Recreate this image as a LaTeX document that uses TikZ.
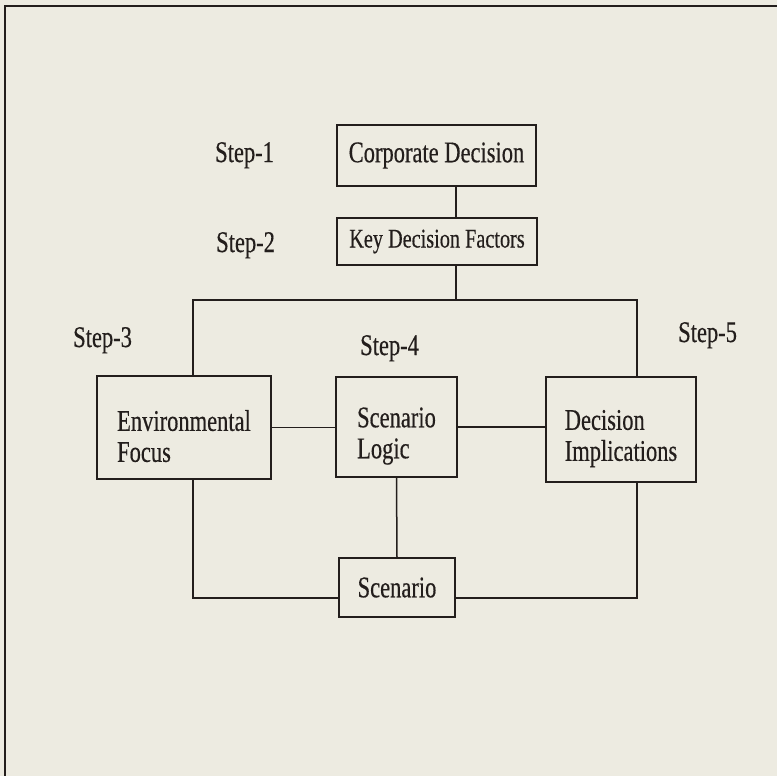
\documentclass[tikz,border=0pt]{standalone}
\usepackage{fontspec}
\setmainfont{Liberation Serif}[FakeStretch=0.75,FakeBold=0.4]
\definecolor{paper}{RGB}{237,235,225}
\definecolor{ink}{RGB}{35,30,28}
\newcommand{\lift}{\rule{0pt}{38pt}}
\begin{document}
\begin{tikzpicture}[x=1pt,y=-1pt,
  box/.style={draw=ink, line width=1.5pt, fill=paper, inner sep=0pt, align=left,
    font=\fontsize{30}{31}\selectfont, text=ink},
  steplbl/.style={anchor=base west, inner sep=0pt, font=\fontsize{30}{31}\selectfont, text=ink},
  conn/.style={draw=ink, line width=1.5pt}]
\fill[paper] (0,0) rectangle (777,776);
\useasboundingbox (0,0) rectangle (777,776);
\draw[ink, line width=2pt] (5,776) -- (5,6) -- (777,6);

\node[box, minimum width=199pt, minimum height=61pt] (cd) at (436.5,155.5) {Corporate Decision};
\node[box, minimum width=200pt, minimum height=47pt, font=\fontsize{27}{30}\selectfont] (kdf) at (437,241.5) {Key Decision Factors};
\node[box, minimum width=174pt, minimum height=103pt] (env) at (184,427.5) {\lift Environmental\\Focus};
\node[box, minimum width=121pt, minimum height=100pt] (sl) at (396.5,427) {\lift Scenario\\Logic};
\node[box, minimum width=150pt, minimum height=105pt] (dec) at (621,429.5) {\lift Decision\\Implications};
\node[box, minimum width=116pt, minimum height=59pt] (scen) at (397,587.5) {Scenario};

\node[steplbl] (s1) at (215,162) {Step-1};
\node[steplbl] (s2) at (216,252) {Step-2};
\node[steplbl] (s3) at (73,347) {Step-3};
\node[steplbl] (s4) at (360,355) {Step-4};
\node[steplbl] (s5) at (678,342) {Step-5};

\coordinate (xm) at (456,0);
\coordinate (xl) at (193,0);
\coordinate (xr) at (637,0);
\coordinate (bus) at (0,300);
\coordinate (low) at (0,598);

\draw[conn] (xm |- cd.south) -- (xm |- kdf.north);
\draw[conn] (xm |- kdf.south) -- (xm |- bus);
\draw[conn] (xl |- env.north) -- (xl |- bus) -- (xr |- bus) -- (xr |- dec.north);
\draw[conn] (env.east) -- (env.east -| sl.west);
\draw[conn] (sl.east) -- (sl.east -| dec.west);
\draw[conn] (sl.south) -- (scen.north);
\draw[conn] (xl |- env.south) -- (xl |- low) -- (low -| scen.west);
\draw[conn] (xr |- dec.south) -- (xr |- low) -- (low -| scen.east);
\end{tikzpicture}
\end{document}
